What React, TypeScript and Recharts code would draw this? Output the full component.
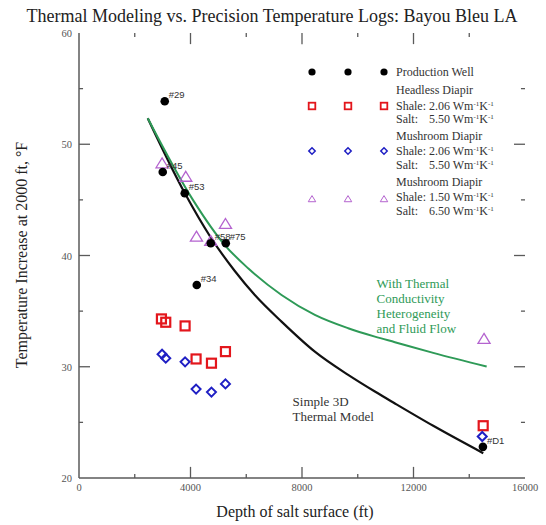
import React from 'react';
import { ComposedChart, Line, Scatter, XAxis, YAxis, Legend, Label, ReferenceDot, ReferenceLine } from 'recharts';

const xTicks = [0, 2000, 4000, 6000, 8000, 10000, 12000, 14000, 16000];
const yTicks = [20, 25, 30, 35, 40, 45, 50, 55, 60];

const wellNames = ['#29', '#45', '#53', '#58', '#75', '#34', '#D1'];
const wellDepth = [3076, 3004, 3794, 4727, 5266, 4225, 14490];
const wellTemp = [53.87, 47.5, 45.6, 41.1, 41.1, 37.35, 22.8];

const headlessDepth = [2957, 3112, 3806, 4200, 4752, 5254, 14500];
const headlessTemp = [34.3, 34.0, 33.67, 30.7, 30.32, 31.36, 24.7];

const mushroomADepth = [2980, 3112, 3806, 4200, 4752, 5254, 14466];
const mushroomATemp = [31.13, 30.77, 30.44, 27.99, 27.72, 28.46, 23.73];

const mushroomBDepth = [2980, 3830, 4214, 4727, 5255, 14530];
const mushroomBTemp = [48.28, 47.07, 41.69, 41.3, 42.83, 32.5];

const simpleDepth = [2466, 3794, 4727, 5589, 6307, 7266, 8461, 9657, 10615, 11333, 12708, 14503];
const simpleTemp = [52.34, 45.61, 41.62, 38.61, 36.45, 34.06, 31.36, 29.27, 27.77, 26.7, 24.69, 22.23];

const flowDepth = [2466, 4092, 5230, 6067, 7266, 8461, 9657, 10615, 11333, 12708, 14625];
const flowTemp = [52.34, 44.98, 40.94, 38.85, 36.45, 34.66, 33.46, 32.71, 32.21, 31.25, 30.02];

// where the two curve captions sit, in data units
const flowNote = { x: 10676, y: 37.11, lines: ['With Thermal', 'Conductivity', 'Heterogeneity', 'and Fluid Flow'] };
const simpleNote = { x: 7661, y: 26.43, lines: ['Simple 3D', 'Thermal Model'] };

const X_MIN = 0;
const X_MAX = 16000;
const Y_MIN = 20;
const Y_MAX = 60;
// inward tick lengths, in axis units (about 11px major / 4px minor)
const X_TICK_LEN = { major: 1.0, minor: 0.36 };
const Y_TICK_LEN = { major: 395, minor: 145 };

const toPoints = (xs: number[], ys: number[], names?: string[]) =>
  xs.map((x, i) => ({ x, y: ys[i], name: names ? names[i] : '' }));

const wells = toPoints(wellDepth, wellTemp, wellNames);
const headless = toPoints(headlessDepth, headlessTemp);
const mushroomA = toPoints(mushroomADepth, mushroomATemp);
const mushroomB = toPoints(mushroomBDepth, mushroomBTemp);
const simpleModel = toPoints(simpleDepth, simpleTemp);
const flowModel = toPoints(flowDepth, flowTemp);

const xTickMarks = xTicks.slice(1, -1).flatMap((v) => {
  const len = v % 4000 === 0 ? X_TICK_LEN.major : X_TICK_LEN.minor;
  return [
    { id: 'xb' + v, seg: [{ x: v, y: Y_MIN }, { x: v, y: Y_MIN + len }] },
    { id: 'xt' + v, seg: [{ x: v, y: Y_MAX }, { x: v, y: Y_MAX - len }] },
  ];
});
const yTickMarks = yTicks.slice(1, -1).flatMap((v) => {
  const len = v % 10 === 0 ? Y_TICK_LEN.major : Y_TICK_LEN.minor;
  return [
    { id: 'yl' + v, seg: [{ x: X_MIN, y: v }, { x: X_MIN + len, y: v }] },
    { id: 'yr' + v, seg: [{ x: X_MAX, y: v }, { x: X_MAX - len, y: v }] },
  ];
});
const tickMarks = [...xTickMarks, ...yTickMarks];

const FRAME = '#5a5a5a';
const RED = '#e3161c';
const BLUE = '#1f1fc4';
const PURPLE = '#b463cf';
const GREEN = '#2e9a57';
const SERIF = '"Liberation Serif", "Times New Roman", serif';
const SANS = '"Liberation Sans", Arial, sans-serif';

const dot = (cx: number, cy: number, r: number) => <circle cx={cx} cy={cy} r={r} fill="#000" />;
const square = (cx: number, cy: number, h: number, sw: number) => (
  <rect x={cx - h} y={cy - h} width={h * 2} height={h * 2} fill="none" stroke={RED} strokeWidth={sw} />
);
const diamond = (cx: number, cy: number, h: number, sw: number) => (
  <polygon points={`${cx},${cy - h} ${cx + h},${cy} ${cx},${cy + h} ${cx - h},${cy}`} fill="none" stroke={BLUE} strokeWidth={sw} />
);
const triangle = (cx: number, cy: number, h: number, sw: number) => (
  <polygon points={`${cx},${cy - h} ${cx + h * 1.1},${cy + h * 0.8} ${cx - h * 1.1},${cy + h * 0.8}`} fill="none" stroke={PURPLE} strokeWidth={sw} />
);

function WellShape(p: any) {
  return (
    <g>
      {dot(p.cx, p.cy, 4.3)}
      <text x={p.cx + 4} y={p.cy - 3} fontSize={9.5} fontFamily={SANS} fill="#333">{p.payload.name}</text>
    </g>
  );
}

function BottomTick({ x, y, payload }: any) {
  if (payload.value % 4000 !== 0) return <g />;
  return (
    <text x={x} y={y + 13} textAnchor="middle" fontSize={10.5} fontFamily={SERIF} fill="#555">{payload.value}</text>
  );
}

function LeftTick({ x, y, payload }: any) {
  if (payload.value % 10 !== 0) return <g />;
  return (
    <text x={x - 7} y={y + 4} textAnchor="end" fontSize={10.5} fontFamily={SERIF} fill="#555">{payload.value}</text>
  );
}

function Note({ cx, cy, lines, color }: any) {
  return (
    <text x={cx} y={cy} fontSize={13} fontFamily={SERIF} fill={color}>
      {lines.map((l: string, i: number) => (
        <tspan key={l} x={cx} dy={i === 0 ? 0 : 15}>{l}</tspan>
      ))}
    </text>
  );
}

function Units() {
  return (
    <>
      <tspan>Wm</tspan>
      <tspan dy={-4} fontSize={7}>-1</tspan>
      <tspan dy={4}>K</tspan>
      <tspan dy={-4} fontSize={7}>-1</tspan>
    </>
  );
}

function LegendBox() {
  const sx = [12, 48, 84];
  const tx = 96;
  const nx = 129;
  const t = { fontSize: 12, fontFamily: SERIF, fill: '#333' };
  return (
    <svg width={240} height={165} style={{ display: 'block', overflow: 'visible' }}>
      {sx.map((x) => <g key={'d' + x}>{dot(x, 12, 3.6)}</g>)}
      <text x={tx} y={16} {...t}>Production Well</text>

      <text x={tx} y={34} {...t}>Headless Diapir</text>
      {sx.map((x) => <g key={'s' + x}>{square(x, 46, 3.3, 1.8)}</g>)}
      <text x={tx} y={50} {...t}>Shale:<tspan x={nx}>2.06 </tspan><Units /></text>
      <text x={tx} y={63} {...t}>Salt:<tspan x={nx}>5.50 </tspan><Units /></text>

      <text x={tx} y={80} {...t}>Mushroom Diapir</text>
      {sx.map((x) => <g key={'m' + x}>{diamond(x, 91, 3.2, 1.5)}</g>)}
      <text x={tx} y={95} {...t}>Shale:<tspan x={nx}>2.06 </tspan><Units /></text>
      <text x={tx} y={109} {...t}>Salt:<tspan x={nx}>5.50 </tspan><Units /></text>

      <text x={tx} y={126} {...t}>Mushroom Diapir</text>
      {sx.map((x) => <g key={'t' + x}>{triangle(x, 139, 3.4, 1)}</g>)}
      <text x={tx} y={141} {...t}>Shale:<tspan x={nx}>1.50 </tspan><Units /></text>
      <text x={tx} y={155} {...t}>Salt:<tspan x={nx}>6.50 </tspan><Units /></text>
    </svg>
  );
}

export default function App() {
  return (
    <div style={{ position: 'absolute', left: 0, top: 0, background: '#fff' }}>
      <ComposedChart width={546} height={525} margin={{ top: 33, right: 21, bottom: 0, left: 0 }}>
        <XAxis
          xAxisId="b"
          dataKey="x"
          type="number"
          domain={[X_MIN, X_MAX]}
          ticks={xTicks}
          allowDataOverflow
          height={47}
          tickSize={0}
          tickMargin={0}
          tick={(p: any) => <BottomTick {...p} />}
          axisLine={{ stroke: FRAME, strokeWidth: 1.5 }}
          tickLine={false}
        >
          <Label
            content={() => (
              <g>
                <text x={295} y={517} textAnchor="middle" fontSize={16} fontFamily={SERIF} fill="#222">
                  Depth of salt surface (ft)
                </text>
                <text x={272} y={22} textAnchor="middle" fontSize={18} fontFamily={SERIF} fill="#222">
                  Thermal Modeling vs. Precision Temperature Logs: Bayou Bleu LA
                </text>
              </g>
            )}
          />
        </XAxis>
        <XAxis
          xAxisId="t"
          orientation="top"
          dataKey="x"
          type="number"
          domain={[X_MIN, X_MAX]}
          ticks={xTicks}
          allowDataOverflow
          height={0}
          tick={false}
          axisLine={{ stroke: FRAME, strokeWidth: 1.5 }}
          tickLine={false}
        />
        <YAxis
          yAxisId="l"
          dataKey="y"
          type="number"
          domain={[Y_MIN, Y_MAX]}
          ticks={yTicks}
          allowDataOverflow
          width={79}
          tickSize={0}
          tickMargin={0}
          tick={(p: any) => <LeftTick {...p} />}
          axisLine={{ stroke: FRAME, strokeWidth: 1.5 }}
          tickLine={false}
        >
          <Label
            content={() => (
              <text x={27} y={255} transform="rotate(-90 27 255)" textAnchor="middle" fontSize={16} fontFamily={SERIF} fill="#222">
                Temperature Increase at 2000 ft, °F
              </text>
            )}
          />
        </YAxis>
        <YAxis
          yAxisId="r"
          orientation="right"
          dataKey="y"
          type="number"
          domain={[Y_MIN, Y_MAX]}
          ticks={yTicks}
          allowDataOverflow
          width={0}
          tick={false}
          axisLine={{ stroke: FRAME, strokeWidth: 1.5 }}
          tickLine={false}
        />

        {tickMarks.map((t) => (
          <ReferenceLine key={t.id} xAxisId="b" yAxisId="l" segment={t.seg} ifOverflow="visible" stroke={FRAME} strokeWidth={1.3} />
        ))}

        <Line xAxisId="b" yAxisId="l" data={simpleModel} dataKey="y" type="monotone" stroke="#111" strokeWidth={2.2} dot={false} isAnimationActive={false} />
        <Line xAxisId="b" yAxisId="l" data={flowModel} dataKey="y" type="monotone" stroke={GREEN} strokeWidth={2} dot={false} isAnimationActive={false} />

        <Scatter xAxisId="b" yAxisId="l" data={mushroomB} dataKey="y" isAnimationActive={false} shape={(p: any) => triangle(p.cx, p.cy, 5.5, 1.3)} />
        <Scatter xAxisId="b" yAxisId="l" data={headless} dataKey="y" isAnimationActive={false} shape={(p: any) => square(p.cx, p.cy, 4.5, 2.2)} />
        <Scatter xAxisId="b" yAxisId="l" data={mushroomA} dataKey="y" isAnimationActive={false} shape={(p: any) => diamond(p.cx, p.cy, 4.5, 2)} />
        <Scatter xAxisId="b" yAxisId="l" data={wells} dataKey="y" isAnimationActive={false} shape={(p: any) => <WellShape {...p} />} />

        <ReferenceDot
          xAxisId="b"
          yAxisId="l"
          x={flowNote.x}
          y={flowNote.y}
          r={0}
          shape={(p: any) => <Note cx={p.cx} cy={p.cy} lines={flowNote.lines} color={GREEN} />}
        />
        <ReferenceDot
          xAxisId="b"
          yAxisId="l"
          x={simpleNote.x}
          y={simpleNote.y}
          r={0}
          shape={(p: any) => <Note cx={p.cx} cy={p.cy} lines={simpleNote.lines} color="#333" />}
        />

        <Legend
          layout="horizontal"
          verticalAlign="middle"
          align="center"
          wrapperStyle={{ left: 300, top: 60, width: 240, height: 165 }}
          content={() => <LegendBox />}
        />
      </ComposedChart>
    </div>
  );
}
